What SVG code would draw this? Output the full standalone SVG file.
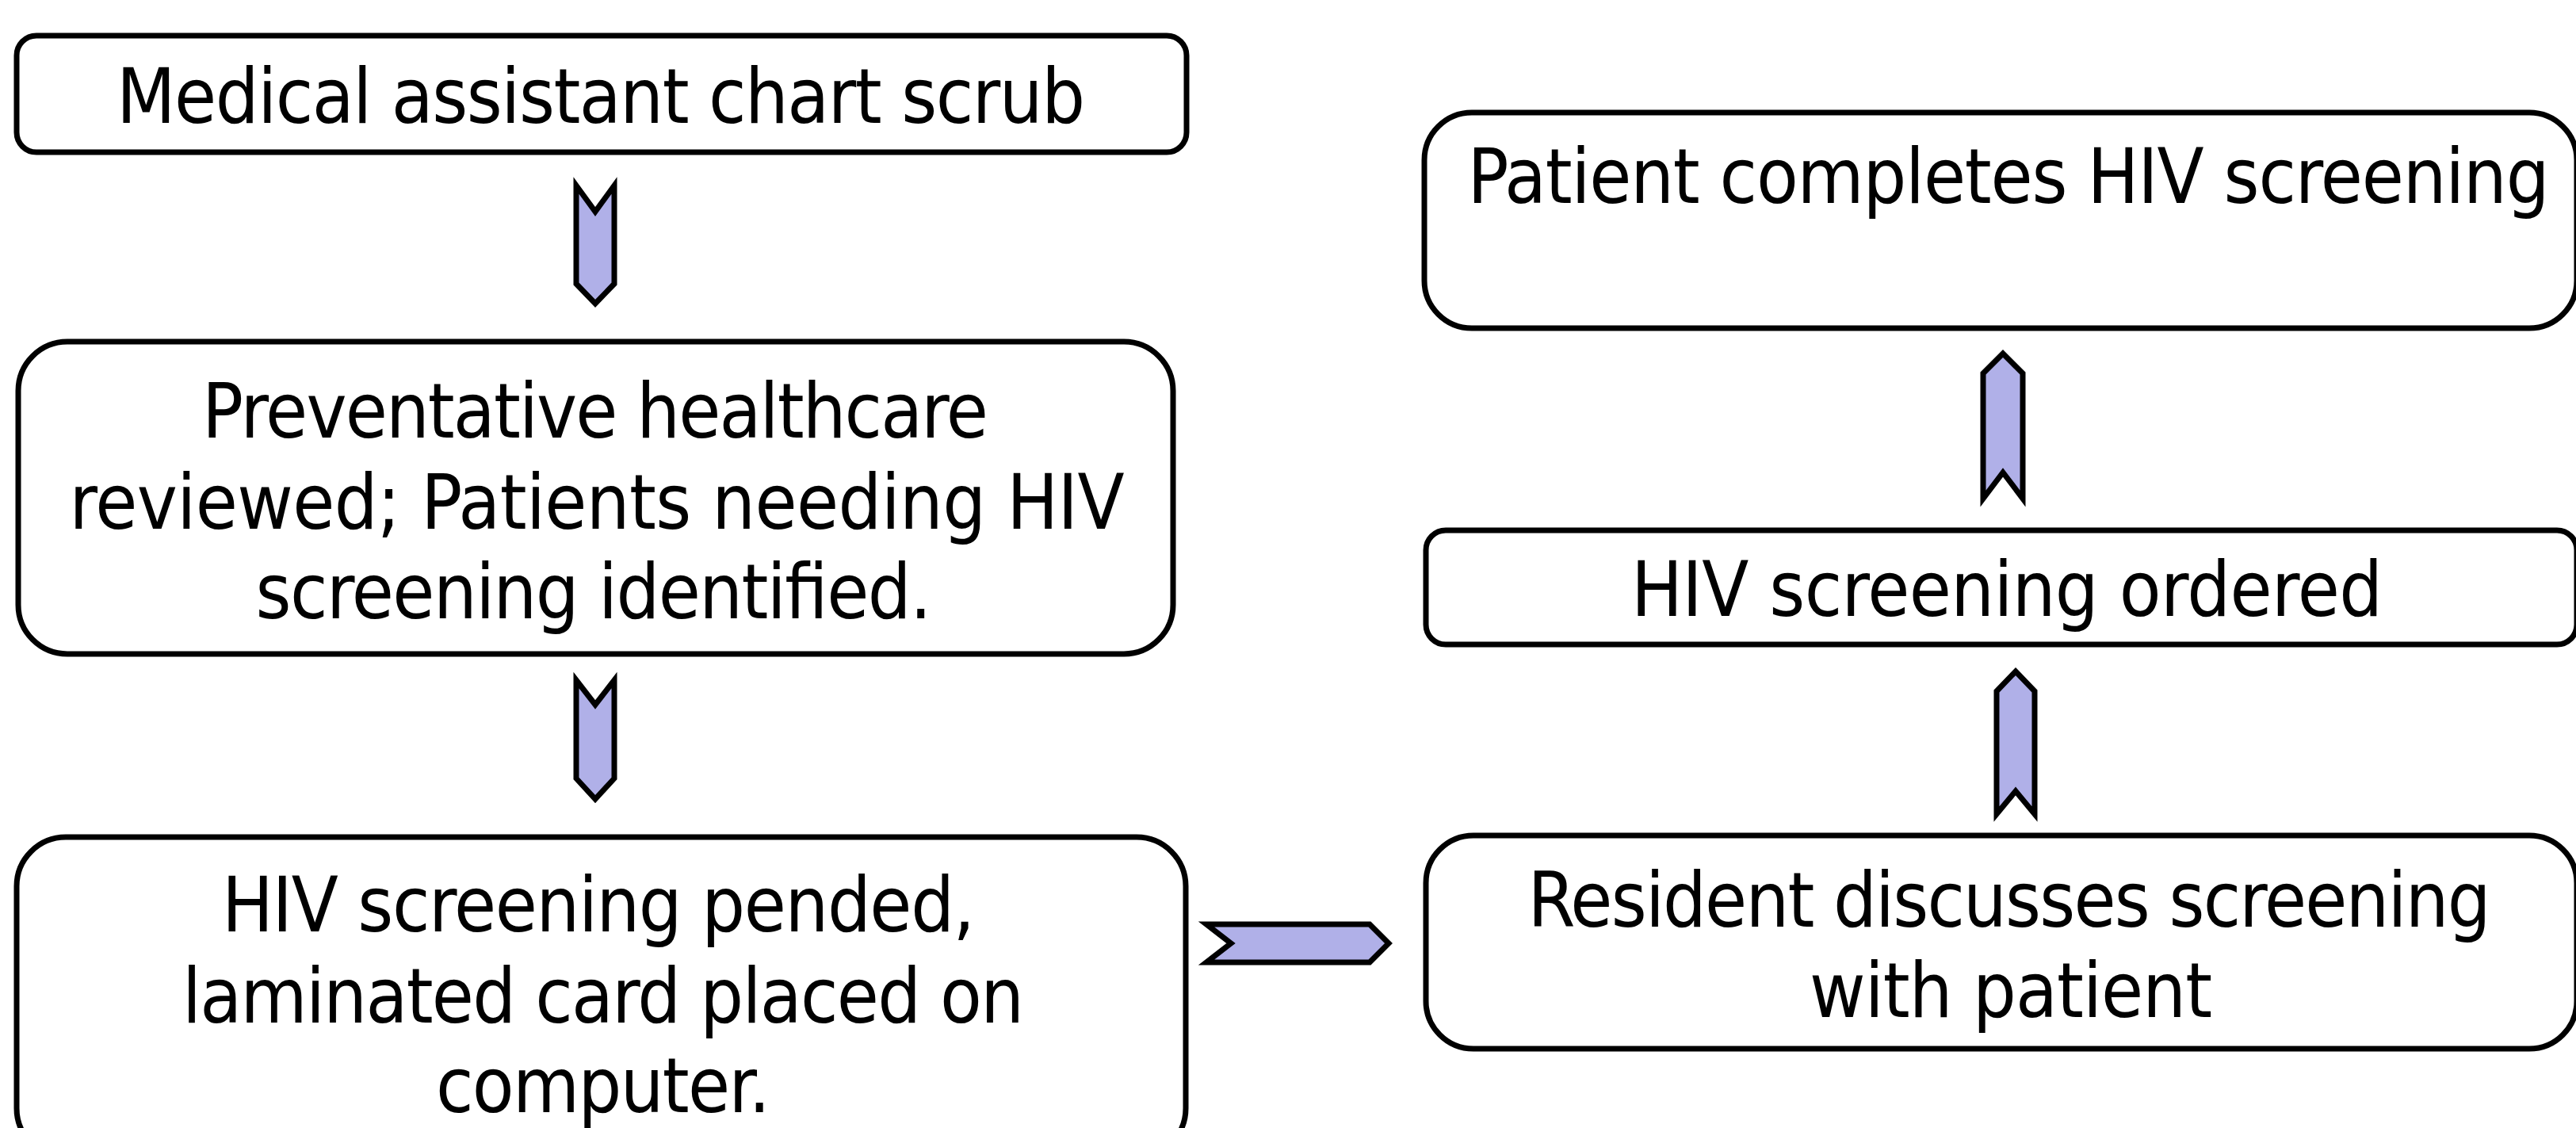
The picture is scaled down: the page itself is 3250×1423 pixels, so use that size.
<svg xmlns="http://www.w3.org/2000/svg" width="3250" height="1423" viewBox="0 0 3250 1423">
<style>
.box{fill:#ffffff;stroke:#000000;stroke-width:7}
.arr{fill:#b0b0e8;stroke:#000000;stroke-width:7;stroke-linejoin:miter;stroke-miterlimit:10}
text{font-family:"DejaVu Sans Condensed","DejaVu Sans",sans-serif;font-size:96px;fill:#000000;text-anchor:middle}
</style>
<rect width="3250" height="1423" fill="#ffffff"/>
<g id="connectors">
<polygon class="arr" points="727,234 751,267 775,234 775,358 751,383 727,358"/>
<polygon class="arr" points="727,858 751,889 775,858 775,982 751,1008 727,982"/>
<polygon class="arr" points="1522,1166 1553,1190 1522,1214 1728,1214 1752,1190 1728,1166"/>
<polygon class="arr" points="2527,446 2552,471 2552,629 2527,596 2502,629 2502,471"/>
<polygon class="arr" points="2543,847 2567,872 2567,1027 2543,998 2519,1027 2519,872"/>
</g>
<g id="node1">
<rect class="box" x="21" y="45" width="1476" height="147" rx="25" ry="25"/>
<text x="758" y="155" textLength="1222" lengthAdjust="spacing">Medical assistant chart scrub</text>
</g>
<g id="node2">
<rect class="box" x="23" y="431" width="1457" height="394" rx="62" ry="62"/>
<text x="751" y="552" textLength="992" lengthAdjust="spacing">Preventative healthcare</text>
<text x="753" y="667" textLength="1331" lengthAdjust="spacing">reviewed; Patients needing HIV</text>
<text x="749" y="780" textLength="853" lengthAdjust="spacing">screening identified.</text>
</g>
<g id="node3">
<rect class="box" x="21" y="1056" width="1475" height="404" rx="62" ry="62"/>
<text x="755" y="1175" textLength="950" lengthAdjust="spacing">HIV screening pended,</text>
<text x="761" y="1290" textLength="1062" lengthAdjust="spacing">laminated card placed on</text>
<text x="761" y="1403" textLength="422" lengthAdjust="spacing">computer.</text>
</g>
<g id="node4">
<rect class="box" x="1797" y="142" width="1454" height="272" rx="60" ry="60"/>
<text x="2534" y="256" textLength="1365" lengthAdjust="spacing">Patient completes HIV screening</text>
</g>
<g id="node5">
<rect class="box" x="1799" y="669" width="1452" height="144" rx="25" ry="25"/>
<text x="2532" y="777" textLength="948" lengthAdjust="spacing">HIV screening ordered</text>
</g>
<g id="node6">
<rect class="box" x="1799" y="1054" width="1452" height="269" rx="60" ry="60"/>
<text x="2535" y="1169" textLength="1215" lengthAdjust="spacing">Resident discusses screening</text>
<text x="2537" y="1283" textLength="508" lengthAdjust="spacing">with patient</text>
</g>
</svg>
